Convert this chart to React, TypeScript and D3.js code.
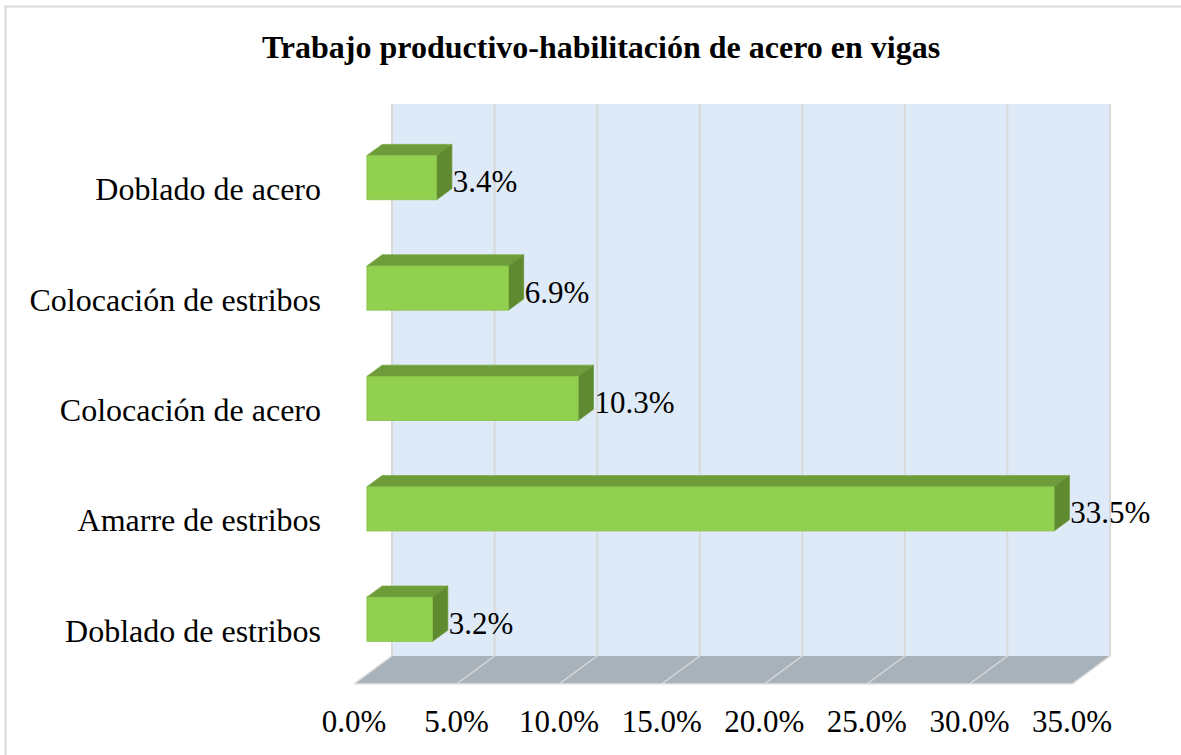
import * as d3 from "d3";

const categories = [
  "Doblado de acero",
  "Colocación de estribos",
  "Colocación de acero",
  "Amarre de estribos",
  "Doblado de estribos",
];
const values = [3.4, 6.9, 10.3, 33.5, 3.2];
const ticks = [0, 5, 10, 15, 20, 25, 30, 35];

const title = "Trabajo productivo-habilitación de acero en vigas";

// depth offset of the 3D box (back plane relative to front plane)
const DX = 38;
const DY = -28;
const Z0 = 0.34;
const Z1 = 0.74;

export default function App() {
  const x = d3.scaleLinear().domain([0, 35]).range([354, 1072]);
  const y = d3
    .scaleBand<string>()
    .domain(categories)
    .range([132, 684])
    .paddingInner(0.6)
    .paddingOuter(0.3);

  const fmt = d3.format(".1f");
  const floorFront = 684;
  const floorBack = floorFront + DY;
  const wallTop = 132 + DY;

  const pts = (arr: [number, number][]) => arr.map((p) => p.join(",")).join(" ");

  return (
    <svg
      width={1181}
      height={755}
      style={{ position: "absolute", left: 0, top: 0, fontFamily: "'Liberation Serif', 'Times New Roman', serif" }}
    >
      <rect x={0} y={0} width={1181} height={755} fill="#fff" />
      <rect x={5.5} y={6.5} width={1190} height={760} fill="none" stroke="#d9d9d9" strokeWidth={2} />

      <text x={601} y={47} textAnchor="middle" dominantBaseline="central" fontSize={32} fontWeight="bold">
        {title}
      </text>

      {/* back wall */}
      <rect x={x(0) + DX} y={wallTop} width={x(35) - x(0)} height={floorBack - wallTop} fill="#deeaf7" />
      {/* floor */}
      <polygon
        points={pts([
          [x(0), floorFront],
          [x(35), floorFront],
          [x(35) + DX, floorBack],
          [x(0) + DX, floorBack],
        ])}
        fill="#a8b2bb"
      />
      {ticks.map((t) => (
        <g key={t} stroke="#d9d9d9" strokeWidth={2}>
          <line x1={x(t) + DX} x2={x(t) + DX} y1={wallTop} y2={floorBack} />
          <line x1={x(t) + DX} x2={x(t)} y1={floorBack} y2={floorFront} strokeWidth={1.5} />
        </g>
      ))}
      <line x1={x(0)} x2={x(35)} y1={floorFront} y2={floorFront} stroke="#e4e4e4" strokeWidth={1.5} />

      {categories.map((c, i) => {
        const v = values[i];
        const yt = y(c)!;
        const h = y.bandwidth();
        const fx0 = x(0) + Z0 * DX;
        const fx1 = x(v) + Z0 * DX;
        const fy0 = yt + Z0 * DY;
        const fy1 = fy0 + h;
        const dx = (Z1 - Z0) * DX;
        const dy = (Z1 - Z0) * DY;
        return (
          <g key={c}>
            {/* top face */}
            <polygon
              points={pts([
                [fx0, fy0],
                [fx1, fy0],
                [fx1 + dx, fy0 + dy],
                [fx0 + dx, fy0 + dy],
              ])}
              fill="#6f9c3a"
              stroke="#7aa844"
              strokeWidth={0.8}
            />
            {/* side face */}
            <polygon
              points={pts([
                [fx1, fy0],
                [fx1 + dx, fy0 + dy],
                [fx1 + dx, fy1 + dy],
                [fx1, fy1],
              ])}
              fill="#5f8a2f"
              stroke="#6a9638"
              strokeWidth={0.8}
            />
            {/* front face */}
            <rect x={fx0} y={fy0} width={fx1 - fx0} height={h} fill="#92d050" stroke="#86c048" strokeWidth={0.8} />
            <text x={fx1 + dx + 1} y={fy0 + h / 2 + 4} dominantBaseline="central" fontSize={31}>
              {fmt(v)}%
            </text>
            <text x={321} y={yt + h / 2 + 2} textAnchor="end" dominantBaseline="central" fontSize={32}>
              {c}
            </text>
          </g>
        );
      })}

      {ticks.map((t) => (
        <text key={t} x={x(t)} y={721} textAnchor="middle" dominantBaseline="central" fontSize={31}>
          {fmt(t)}%
        </text>
      ))}
    </svg>
  );
}
